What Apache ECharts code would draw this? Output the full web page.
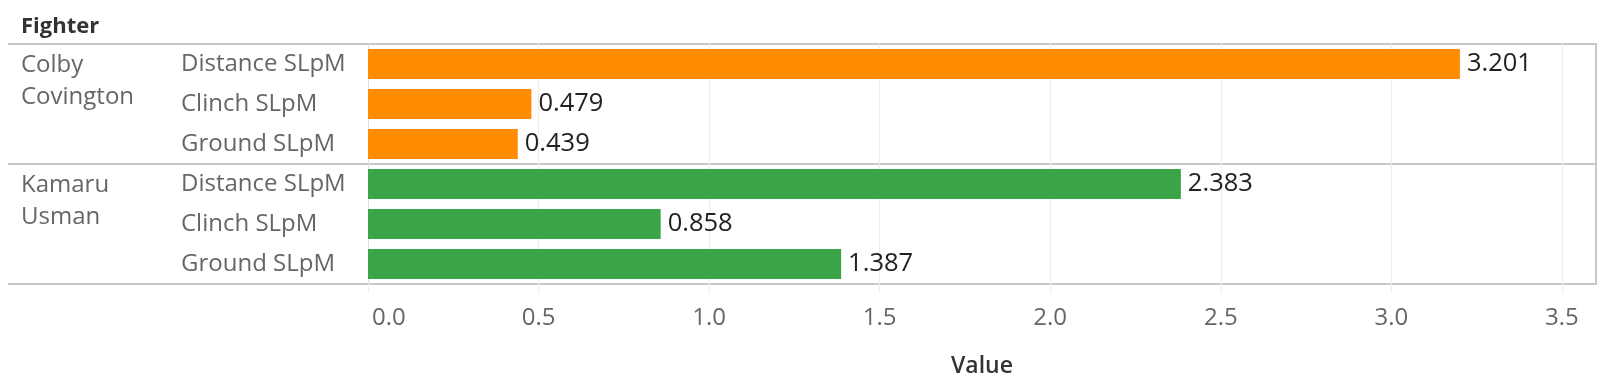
<!DOCTYPE html>
<html>
<head>
<meta charset="utf-8">
<script src="https://cdn.jsdelivr.net/npm/echarts@6/dist/echarts.min.js"></script>
<style>
html,body{margin:0;padding:0;background:#fff;}
#chart{width:1608px;height:392px;}
</style>
</head>
<body>
<div id="chart"></div>
<script>
// ---- data ----
const fighters = ['Colby Covington', 'Kamaru Usman'];
const metrics = ['Distance SLpM', 'Clinch SLpM', 'Ground SLpM'];
const colbyValues = [3.201, 0.479, 0.439];
const usmanValues = [2.383, 0.858, 1.387];
const xTicks = [0, 0.5, 1, 1.5, 2, 2.5, 3, 3.5];
const fighterColors = ['#FF8B00', '#3AA546'];

// ---- build ----
const valuesByFighter = [colbyValues, usmanValues];
const rowLabels = [];
const barData = [];
fighters.forEach(function (f, fi) {
  metrics.forEach(function (m, mi) {
    rowLabels.push(m);
    barData.push({ value: valuesByFighter[fi][mi], itemStyle: { color: fighterColors[fi] } });
  });
});

const FONT = '"Open Sans", "Noto Sans", sans-serif';
const chart = echarts.init(document.getElementById('chart'), null, { renderer: 'canvas' });

const option = {
  animation: false,
  backgroundColor: '#ffffff',
  textStyle: { fontFamily: FONT },
  title: {
    text: 'Fighter',
    left: 21, top: 16, padding: 0,
    textStyle: { fontFamily: FONT, fontSize: 22, fontWeight: 'bold', color: '#333333' }
  },
  grid: [
    { left: 368, right: 12, top: 44, bottom: 108, show: false },
    { left: 8, right: 12, top: 44, bottom: 108, show: false }
  ],
  xAxis: [
    {
      gridIndex: 0, type: 'value', min: xTicks[0], max: 3.6, interval: 0.5,
      name: 'Value', nameLocation: 'middle', nameGap: 71,
      nameTextStyle: { fontFamily: FONT, fontSize: 23, fontWeight: 600, color: '#333333' },
      axisLine: { show: false },
      axisTick: { show: true, length: 9, lineStyle: { color: '#eeeeee' } },
      axisLabel: {
        margin: 22, fontSize: 24, color: '#666666', fontFamily: FONT,
        showMaxLabel: false,
        alignMinLabel: 'left',
        rich: { first: { fontSize: 24, color: '#666666', fontFamily: FONT, padding: [0, 0, 0, 4] } },
        formatter: function (v) {
          if (xTicks.indexOf(v) < 0) return '';
          return v === xTicks[0] ? '{first|' + v.toFixed(1) + '}' : v.toFixed(1);
        }
      },
      splitLine: { show: true, lineStyle: { color: '#ececec', width: 1 } }
    },
    { gridIndex: 1, type: 'value', show: false }
  ],
  yAxis: [
    {
      gridIndex: 0, type: 'category', data: rowLabels, inverse: true,
      axisLine: { show: true, lineStyle: { color: '#dddddd', width: 1 } },
      axisTick: { show: false },
      splitLine: { show: false },
      axisLabel: { align: 'left', margin: 187, fontSize: 24, color: '#666666', fontFamily: FONT }
    },
    {
      gridIndex: 1, type: 'category', data: fighters, inverse: true,
      axisLine: { show: false },
      axisTick: { show: false },
      splitLine: { show: true, lineStyle: { color: '#c8c8c8', width: 2 } },
      axisLabel: {
        inside: true, align: 'left', margin: 13, fontSize: 24, color: '#666666', fontFamily: FONT,
        rich: {
          n: { fontSize: 24, color: '#666666', fontFamily: FONT, lineHeight: 32 },
          s: { fontSize: 24, lineHeight: 46 }
        },
        formatter: function (v) {
          return v.split(' ').map(function (w) { return '{n|' + w + '}'; }).join('\n') + '\n{s| }';
        }
      }
    },
    {
      gridIndex: 0, type: 'value', position: 'right',
      axisLine: { show: true, lineStyle: { color: '#c8c8c8', width: 2 } },
      axisTick: { show: false }, axisLabel: { show: false }, splitLine: { show: false }
    }
  ],
  series: [
    {
      type: 'bar', xAxisIndex: 0, yAxisIndex: 0,
      data: barData, barWidth: 30,
      label: {
        show: true, position: 'right', distance: 7,
        fontSize: 25.5, color: '#222222', fontFamily: FONT,
        formatter: function (p) { return p.value.toFixed(3); }
      }
    }
  ]
};
chart.setOption(option);
</script>
</body>
</html>
